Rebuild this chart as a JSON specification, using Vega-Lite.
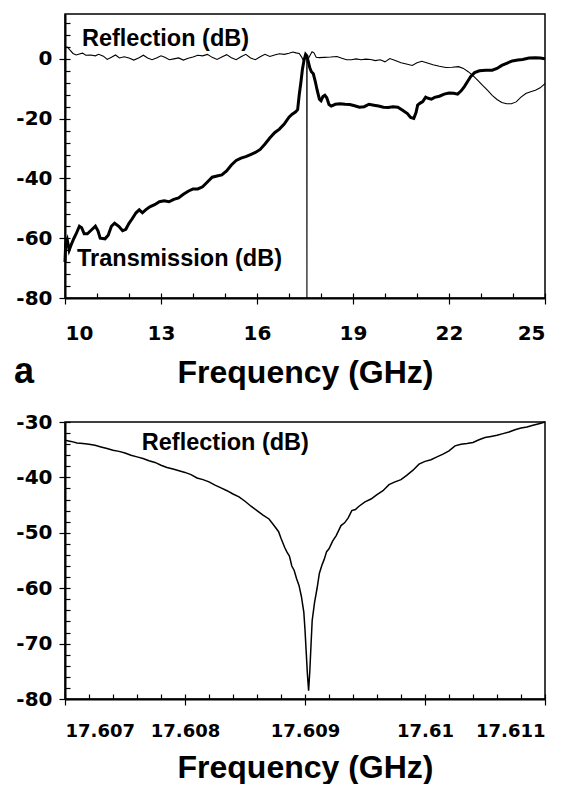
{
  "$schema": "https://vega.github.io/schema/vega-lite/v6.json",
  "padding": {"left": 13, "top": 13, "right": 5, "bottom": 0},
  "background": "white",
  "spacing": 20,
  "config": {
    "view": {"stroke": "black", "strokeWidth": 1.5},
    "axis": {
      "domainColor": "black", "domainWidth": 2, "tickColor": "black", "tickWidth": 1.2,
      "labelFont": "DejaVu Sans", "labelFontWeight": "bold", "labelColor": "black",
      "titleFont": "Liberation Sans", "titleFontWeight": "bold", "titleColor": "black",
      "grid": false
    },
    "text": {"font": "Liberation Sans", "fontWeight": "bold", "color": "black"}
  },
  "datasets": {
    "refl": [
      {"f": 10.0, "db": 3.8}, {"f": 10.08, "db": 3.9}, {"f": 10.15, "db": 3.0}, {"f": 10.25, "db": 1.8}, {"f": 10.35, "db": 1.3},
      {"f": 10.45, "db": 1.6}, {"f": 10.55, "db": 1.9}, {"f": 10.65, "db": 1.2}, {"f": 10.8, "db": 1.3}, {"f": 10.95, "db": 1.0},
      {"f": 11.05, "db": 1.5}, {"f": 11.2, "db": 0.9}, {"f": 11.32, "db": -0.2}, {"f": 11.45, "db": 0.5}, {"f": 11.58, "db": 1.3},
      {"f": 11.7, "db": 0.3}, {"f": 11.85, "db": 0.7}, {"f": 12.0, "db": 0.3}, {"f": 12.15, "db": -0.4}, {"f": 12.3, "db": 0.3},
      {"f": 12.45, "db": 1.2}, {"f": 12.58, "db": 0.3}, {"f": 12.72, "db": -0.3}, {"f": 12.86, "db": 0.3}, {"f": 13.0, "db": 1.0},
      {"f": 13.12, "db": 0.5}, {"f": 13.26, "db": -0.3}, {"f": 13.4, "db": 0.0}, {"f": 13.55, "db": 0.3}, {"f": 13.7, "db": -0.4},
      {"f": 13.85, "db": 0.2}, {"f": 14.0, "db": 0.6}, {"f": 14.15, "db": 1.2}, {"f": 14.3, "db": 1.0}, {"f": 14.45, "db": 1.5},
      {"f": 14.6, "db": 0.5}, {"f": 14.75, "db": -0.2}, {"f": 14.9, "db": 0.6}, {"f": 15.05, "db": 1.4}, {"f": 15.2, "db": 0.4},
      {"f": 15.35, "db": -0.3}, {"f": 15.5, "db": 0.7}, {"f": 15.65, "db": 1.5}, {"f": 15.8, "db": 0.3}, {"f": 15.95, "db": -0.3},
      {"f": 16.1, "db": 0.7}, {"f": 16.25, "db": 1.5}, {"f": 16.4, "db": 0.8}, {"f": 16.55, "db": 1.3}, {"f": 16.7, "db": 1.7},
      {"f": 16.85, "db": 1.5}, {"f": 17.0, "db": 1.9}, {"f": 17.12, "db": 2.3}, {"f": 17.22, "db": 2.0}, {"f": 17.32, "db": 1.8},
      {"f": 17.4, "db": 0.5}, {"f": 17.46, "db": -0.8}, {"f": 17.52, "db": 1.0}, {"f": 17.555, "db": 1.0}, {"f": 17.56, "db": -80},
      {"f": 17.565, "db": 0.5}, {"f": 17.6, "db": 0.0}, {"f": 17.66, "db": 1.2}, {"f": 17.72, "db": 2.4}, {"f": 17.78, "db": 2.0},
      {"f": 17.85, "db": 0.5}, {"f": 17.95, "db": 0.4}, {"f": 18.1, "db": 0.5}, {"f": 18.3, "db": 0.6}, {"f": 18.5, "db": 0.8},
      {"f": 18.65, "db": 0.2}, {"f": 18.8, "db": -0.3}, {"f": 18.95, "db": -0.3}, {"f": 19.1, "db": 0.0}, {"f": 19.25, "db": -0.3},
      {"f": 19.4, "db": -0.1}, {"f": 19.55, "db": -0.2}, {"f": 19.7, "db": -0.6}, {"f": 19.85, "db": -0.3}, {"f": 20.0, "db": -1.0},
      {"f": 20.15, "db": 0.1}, {"f": 20.3, "db": -0.5}, {"f": 20.5, "db": -1.3}, {"f": 20.7, "db": -1.8}, {"f": 20.85, "db": -2.2},
      {"f": 21.0, "db": -1.3}, {"f": 21.15, "db": -0.8}, {"f": 21.3, "db": -1.3}, {"f": 21.5, "db": -2.0}, {"f": 21.7, "db": -2.5},
      {"f": 21.9, "db": -2.9}, {"f": 22.1, "db": -2.8}, {"f": 22.3, "db": -2.6}, {"f": 22.45, "db": -3.2}, {"f": 22.6, "db": -4.3},
      {"f": 22.75, "db": -5.6}, {"f": 22.9, "db": -7.2}, {"f": 23.05, "db": -8.9}, {"f": 23.2, "db": -10.5}, {"f": 23.35, "db": -12.2},
      {"f": 23.5, "db": -13.6}, {"f": 23.65, "db": -14.6}, {"f": 23.8, "db": -15.0}, {"f": 23.95, "db": -15.0}, {"f": 24.1, "db": -14.4},
      {"f": 24.25, "db": -12.8}, {"f": 24.4, "db": -11.6}, {"f": 24.55, "db": -11.0}, {"f": 24.7, "db": -10.5}, {"f": 24.85, "db": -9.7},
      {"f": 25.0, "db": -8.3}
    ],
    "trans": [
      {"f": 10.0, "db": -68}, {"f": 10.02, "db": -62}, {"f": 10.07, "db": -60.5}, {"f": 10.13, "db": -64}, {"f": 10.2, "db": -62},
      {"f": 10.28, "db": -60}, {"f": 10.35, "db": -58.5}, {"f": 10.45, "db": -56}, {"f": 10.52, "db": -56.5}, {"f": 10.6, "db": -58.5},
      {"f": 10.7, "db": -58.5}, {"f": 10.8, "db": -57.5}, {"f": 10.95, "db": -56}, {"f": 11.03, "db": -57.5}, {"f": 11.1, "db": -60},
      {"f": 11.25, "db": -60.2}, {"f": 11.35, "db": -59}, {"f": 11.45, "db": -56}, {"f": 11.55, "db": -55}, {"f": 11.68, "db": -56},
      {"f": 11.8, "db": -57.5}, {"f": 11.9, "db": -57}, {"f": 12.0, "db": -55}, {"f": 12.1, "db": -53.5}, {"f": 12.22, "db": -51.5},
      {"f": 12.32, "db": -50.5}, {"f": 12.42, "db": -51.5}, {"f": 12.52, "db": -50.5}, {"f": 12.65, "db": -49.5}, {"f": 12.8, "db": -48.8},
      {"f": 12.95, "db": -47.8}, {"f": 13.1, "db": -47.5}, {"f": 13.25, "db": -47.8}, {"f": 13.4, "db": -47}, {"f": 13.55, "db": -46.5},
      {"f": 13.7, "db": -45.3}, {"f": 13.85, "db": -44.3}, {"f": 14.0, "db": -43.5}, {"f": 14.15, "db": -43.5}, {"f": 14.3, "db": -42.8},
      {"f": 14.45, "db": -41.2}, {"f": 14.6, "db": -39.6}, {"f": 14.75, "db": -39.2}, {"f": 14.9, "db": -38.8}, {"f": 15.05, "db": -37.5},
      {"f": 15.2, "db": -35.5}, {"f": 15.35, "db": -34}, {"f": 15.5, "db": -33.2}, {"f": 15.65, "db": -32.7}, {"f": 15.8, "db": -32},
      {"f": 15.95, "db": -31.3}, {"f": 16.1, "db": -30.3}, {"f": 16.25, "db": -28.5}, {"f": 16.4, "db": -26.5}, {"f": 16.55, "db": -24.7},
      {"f": 16.7, "db": -23.5}, {"f": 16.85, "db": -21.8}, {"f": 17.0, "db": -19.5}, {"f": 17.1, "db": -18.5}, {"f": 17.2, "db": -17.8},
      {"f": 17.27, "db": -17}, {"f": 17.32, "db": -12}, {"f": 17.37, "db": -8}, {"f": 17.42, "db": -3.5}, {"f": 17.47, "db": -0.5},
      {"f": 17.52, "db": 1.5}, {"f": 17.56, "db": 1.0}, {"f": 17.6, "db": -0.8}, {"f": 17.65, "db": -3.0}, {"f": 17.7, "db": -4.3},
      {"f": 17.76, "db": -5.0}, {"f": 17.82, "db": -7.5}, {"f": 17.88, "db": -10.5}, {"f": 17.95, "db": -13.5}, {"f": 18.0, "db": -14.0},
      {"f": 18.06, "db": -12.6}, {"f": 18.12, "db": -12.2}, {"f": 18.18, "db": -13.0}, {"f": 18.25, "db": -15.3}, {"f": 18.32, "db": -15.8},
      {"f": 18.45, "db": -15.2}, {"f": 18.6, "db": -15.0}, {"f": 18.75, "db": -15.2}, {"f": 18.9, "db": -15.3}, {"f": 19.05, "db": -15.7},
      {"f": 19.2, "db": -16.2}, {"f": 19.35, "db": -16.0}, {"f": 19.5, "db": -15.2}, {"f": 19.65, "db": -15.5}, {"f": 19.8, "db": -15.8},
      {"f": 19.95, "db": -16.2}, {"f": 20.1, "db": -16.3}, {"f": 20.25, "db": -16.0}, {"f": 20.4, "db": -16.2}, {"f": 20.55, "db": -17.2},
      {"f": 20.7, "db": -18.3}, {"f": 20.8, "db": -19.6}, {"f": 20.9, "db": -19.9}, {"f": 20.97, "db": -18}, {"f": 21.02, "db": -15.5},
      {"f": 21.1, "db": -14.8}, {"f": 21.18, "db": -14.3}, {"f": 21.27, "db": -12.8}, {"f": 21.35, "db": -13.2}, {"f": 21.45, "db": -13.5},
      {"f": 21.55, "db": -12.9}, {"f": 21.7, "db": -12.5}, {"f": 21.85, "db": -11.8}, {"f": 22.0, "db": -11.4}, {"f": 22.15, "db": -11.5},
      {"f": 22.27, "db": -11.8}, {"f": 22.38, "db": -10.7}, {"f": 22.48, "db": -9.3}, {"f": 22.58, "db": -7.6}, {"f": 22.68, "db": -5.9},
      {"f": 22.8, "db": -4.6}, {"f": 22.95, "db": -4.0}, {"f": 23.15, "db": -3.8}, {"f": 23.35, "db": -3.8}, {"f": 23.5, "db": -3.2},
      {"f": 23.65, "db": -2.2}, {"f": 23.8, "db": -1.5}, {"f": 23.98, "db": -0.7}, {"f": 24.15, "db": -0.4}, {"f": 24.3, "db": -0.2},
      {"f": 24.5, "db": 0.3}, {"f": 24.7, "db": 0.4}, {"f": 24.85, "db": 0.3}, {"f": 25.0, "db": 0.0}
    ],
    "zoomrefl": [
      {"f": 17.607, "db": -33.3}, {"f": 17.60705, "db": -33.5}, {"f": 17.6071, "db": -33.8}, {"f": 17.60715, "db": -33.9},
      {"f": 17.6072, "db": -34.0}, {"f": 17.60725, "db": -34.2}, {"f": 17.6073, "db": -34.5}, {"f": 17.60735, "db": -34.8},
      {"f": 17.6074, "db": -35.1}, {"f": 17.60745, "db": -35.3}, {"f": 17.6075, "db": -35.6}, {"f": 17.60755, "db": -36.0},
      {"f": 17.6076, "db": -36.3}, {"f": 17.60765, "db": -36.6}, {"f": 17.6077, "db": -37.0}, {"f": 17.60775, "db": -37.3},
      {"f": 17.6078, "db": -37.8}, {"f": 17.60785, "db": -38.2}, {"f": 17.6079, "db": -38.5}, {"f": 17.60795, "db": -38.8},
      {"f": 17.608, "db": -39.1}, {"f": 17.60805, "db": -39.5}, {"f": 17.6081, "db": -40.1}, {"f": 17.60815, "db": -40.4},
      {"f": 17.6082, "db": -40.8}, {"f": 17.60825, "db": -41.4}, {"f": 17.6083, "db": -41.9}, {"f": 17.60835, "db": -42.4},
      {"f": 17.6084, "db": -43.0}, {"f": 17.60845, "db": -43.5}, {"f": 17.6085, "db": -44.3}, {"f": 17.60855, "db": -45.2},
      {"f": 17.6086, "db": -46.0}, {"f": 17.60865, "db": -46.8}, {"f": 17.6087, "db": -47.5}, {"f": 17.60875, "db": -48.9},
      {"f": 17.60878, "db": -49.8}, {"f": 17.6088, "db": -51.0}, {"f": 17.60883, "db": -52.6}, {"f": 17.60885, "db": -53.5},
      {"f": 17.60887, "db": -54.2}, {"f": 17.60889, "db": -56.0}, {"f": 17.60891, "db": -56.8}, {"f": 17.60893, "db": -58.3},
      {"f": 17.60895, "db": -59.5}, {"f": 17.60897, "db": -61.5}, {"f": 17.60899, "db": -64.3}, {"f": 17.609, "db": -67.5},
      {"f": 17.60901, "db": -71.5}, {"f": 17.60902, "db": -75.5}, {"f": 17.60903, "db": -78.5}, {"f": 17.60904, "db": -75.0},
      {"f": 17.60905, "db": -70.3}, {"f": 17.60906, "db": -65.8}, {"f": 17.60908, "db": -62.5}, {"f": 17.6091, "db": -60.1},
      {"f": 17.60912, "db": -57.3}, {"f": 17.60914, "db": -55.9}, {"f": 17.60916, "db": -54.8}, {"f": 17.60918, "db": -53.4},
      {"f": 17.6092, "db": -52.9}, {"f": 17.60923, "db": -51.5}, {"f": 17.60926, "db": -50.5}, {"f": 17.60928, "db": -49.6},
      {"f": 17.6093, "db": -48.7}, {"f": 17.60933, "db": -48.2}, {"f": 17.60936, "db": -47.3}, {"f": 17.60939, "db": -46.0},
      {"f": 17.60942, "db": -45.8}, {"f": 17.60945, "db": -45.2}, {"f": 17.6095, "db": -44.4}, {"f": 17.60955, "db": -43.9},
      {"f": 17.6096, "db": -43.1}, {"f": 17.60965, "db": -42.4}, {"f": 17.6097, "db": -41.3}, {"f": 17.60975, "db": -40.8},
      {"f": 17.6098, "db": -40.4}, {"f": 17.60985, "db": -39.6}, {"f": 17.6099, "db": -38.7}, {"f": 17.60995, "db": -37.6},
      {"f": 17.61, "db": -37.1}, {"f": 17.61005, "db": -36.8}, {"f": 17.6101, "db": -36.3}, {"f": 17.61015, "db": -35.8},
      {"f": 17.6102, "db": -35.2}, {"f": 17.61025, "db": -34.3}, {"f": 17.6103, "db": -34.0}, {"f": 17.61035, "db": -33.9},
      {"f": 17.6104, "db": -33.7}, {"f": 17.61045, "db": -33.2}, {"f": 17.6105, "db": -32.8}, {"f": 17.61055, "db": -32.6},
      {"f": 17.6106, "db": -32.4}, {"f": 17.61065, "db": -32.1}, {"f": 17.6107, "db": -31.8}, {"f": 17.61075, "db": -31.4},
      {"f": 17.6108, "db": -31.1}, {"f": 17.61085, "db": -30.9}, {"f": 17.6109, "db": -30.6}, {"f": 17.61095, "db": -30.3},
      {"f": 17.611, "db": -30.0}
    ],
    "toplabels": [
      {"f": 10.53, "db": 4.3, "t": "Reflection (dB)"},
      {"f": 10.375, "db": -69.3, "t": "Transmission (dB)"}
    ],
    "panel": [
      {"f": 8.41, "db": -108.4, "t": "a"}
    ],
    "botlabels": [
      {"f": 17.60764, "db": -35.05, "t": "Reflection (dB)"}
    ]
  },
  "vconcat": [
    {
      "width": 480,
      "height": 284,
      "layer": [
        {
          "data": {"name": "refl"},
          "mark": {"type": "line", "color": "black", "strokeWidth": 1.1},
          "encoding": {
            "x": {"field": "f", "type": "quantitative",
              "scale": {"domain": [10, 25], "nice": false, "zero": false},
              "axis": {"values": [10, 13, 16, 19, 22, 25], "tickSize": 6, "labelPadding": 19, "labelFontSize": 20,
                "title": "Frequency (GHz)", "titleFontSize": 32, "titlePadding": 14, "orient": "bottom"}},
            "y": {"field": "db", "type": "quantitative",
              "scale": {"domain": [-80, 15], "nice": false, "zero": false},
              "axis": {"values": [-80, -60, -40, -20, 0], "labelExpr": "toString(datum.value)", "tickSize": 6, "labelPadding": 7, "labelFontSize": 20,
                "title": null, "orient": "left"}}
          }
        },
        {
          "data": {"name": "toplabels"},
          "mark": {"type": "text", "align": "left", "baseline": "alphabetic", "fontSize": 23.5},
          "encoding": {
            "x": {"field": "f", "type": "quantitative",
              "axis": {"orient": "bottom", "values": [10, 11, 12, 13, 14, 15, 16, 17, 18, 19, 20, 21, 22, 23, 24, 25],
                "labels": false, "domain": false, "tickSize": -5, "title": null}},
            "y": {"field": "db", "type": "quantitative",
              "axis": {"orient": "left", "values": [-80, -76, -72, -68, -64, -60, -56, -52, -48, -44, -40, -36, -32, -28, -24, -20, -16, -12, -8, -4, 0, 4, 8, 12],
                "labels": false, "domain": false, "tickSize": -5, "title": null}},
            "text": {"field": "t"}
          }
        },
        {
          "data": {"name": "trans"},
          "mark": {"type": "line", "color": "black", "strokeWidth": 3},
          "encoding": {
            "x": {"field": "f", "type": "quantitative", "axis": null},
            "y": {"field": "db", "type": "quantitative", "axis": null}
          }
        },
        {
          "data": {"name": "panel"},
          "mark": {"type": "text", "align": "left", "baseline": "alphabetic", "fontSize": 36},
          "encoding": {
            "x": {"field": "f", "type": "quantitative", "axis": null},
            "y": {"field": "db", "type": "quantitative", "axis": null},
            "text": {"field": "t"}
          }
        }
      ],
      "resolve": {"axis": {"x": "independent", "y": "independent"}}
    },
    {
      "width": 480,
      "height": 277,
      "layer": [
        {
          "data": {"name": "zoomrefl"},
          "mark": {"type": "line", "color": "black", "strokeWidth": 1.5},
          "encoding": {
            "x": {"field": "f", "type": "quantitative",
              "scale": {"domain": [17.607, 17.611], "nice": false, "zero": false},
              "axis": {"values": [17.607, 17.608, 17.609, 17.61, 17.611], "format": ".3~f", "tickSize": 6, "labelPadding": 17, "labelFontSize": 18,
                "title": "Frequency (GHz)", "titleFontSize": 32, "titlePadding": 12, "orient": "bottom"}},
            "y": {"field": "db", "type": "quantitative",
              "scale": {"domain": [-80, -30], "nice": false, "zero": false},
              "axis": {"values": [-80, -70, -60, -50, -40, -30], "labelExpr": "toString(datum.value)", "tickSize": 6, "labelPadding": 7, "labelFontSize": 20,
                "title": null, "orient": "left"}}
          }
        },
        {
          "data": {"name": "botlabels"},
          "mark": {"type": "text", "align": "left", "baseline": "alphabetic", "fontSize": 23.5},
          "encoding": {
            "x": {"field": "f", "type": "quantitative",
              "axis": {"orient": "bottom", "values": [17.607, 17.6072, 17.6074, 17.6076, 17.6078, 17.608, 17.6082, 17.6084, 17.6086, 17.6088, 17.609, 17.6092, 17.6094, 17.6096, 17.6098, 17.61, 17.6102, 17.6104, 17.6106, 17.6108, 17.611],
                "labels": false, "domain": false, "tickSize": -5, "title": null}},
            "y": {"field": "db", "type": "quantitative",
              "axis": {"orient": "left", "values": [-80, -78, -76, -74, -72, -70, -68, -66, -64, -62, -60, -58, -56, -54, -52, -50, -48, -46, -44, -42, -40, -38, -36, -34, -32, -30],
                "labels": false, "domain": false, "tickSize": -5, "title": null}},
            "text": {"field": "t"}
          }
        }
      ],
      "resolve": {"axis": {"x": "independent", "y": "independent"}}
    }
  ]
}
